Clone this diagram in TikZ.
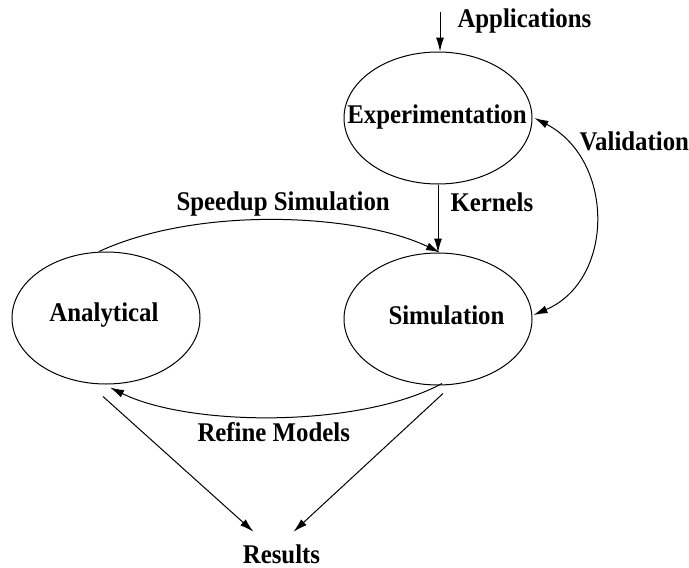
\documentclass[tikz,border=0pt]{standalone}
\usepackage{fontspec}
\setmainfont[FakeStretch=0.92]{Liberation Serif}
\usetikzlibrary{arrows.meta,shapes.geometric,calc}
\begin{document}
\begin{tikzpicture}[x=1pt,y=-1pt,
  line width=1pt,
  tip/.style={-{Latex[length=14pt,width=8pt]}},
  blob/.style={draw,ellipse,minimum width=188pt,minimum height=132pt,inner sep=0pt},
  lbl/.style={font=\fontsize{27}{32}\selectfont\bfseries,inner sep=0pt}]
\useasboundingbox (0,0) rectangle (689,568);
\node[blob] (exp) at (438,118) {};
\node[blob] (sim) at (438,319) {};
\node[blob] (ana) at (106,318) {};
\node[lbl,anchor=base] (expt) at (437,123) {Experimentation};
\node[lbl,anchor=base] (simt) at (446.5,324) {Simulation};
\node[lbl,anchor=base] (anat) at (104,321.7) {Analytical};
\node[lbl,anchor=base west] (app) at (457,27) {Applications};
\node[lbl,anchor=base west] (val) at (579,150) {Validation};
\node[lbl,anchor=base west] (spd) at (176,210.7) {Speedup Simulation};
\node[lbl,anchor=base west] (ker) at (450,211.7) {Kernels};
\node[lbl,anchor=base west] (ref) at (197,441.7) {Refine Models};
\node[lbl,anchor=base] (res) at (281.5,563) {Results};
\coordinate (appstart) at ($(exp.north)+(2,-40)$);
\draw[tip] (appstart) -- ($(exp.north)+(2,0)$);
\draw[tip] (exp.south) -- (sim.north);
\draw[{Latex[length=14pt,width=8pt]}-{Latex[length=14pt,width=8pt]}]
  ($(sim.east)+(1,-4)$) .. controls (615,280) and (615,160) .. ($(exp.east)+(2,0)$);
\draw[tip] ($(ana.north)+(-7,0)$) .. controls (200,205) and (360,214) .. ($(sim.north)+(2,0)$);
\draw[tip] ($(sim.south)+(4,-2)$) .. controls (360,428) and (190,427) .. ($(ana.south)+(4,3)$);
\draw[tip] ($(ana.south)+(-3,12)$) -- ($(res.north)+(-28,-12)$);
\draw[tip] ($(sim.south)+(5,8)$) -- ($(res.north)+(12,-12)$);
\end{tikzpicture}
\end{document}
